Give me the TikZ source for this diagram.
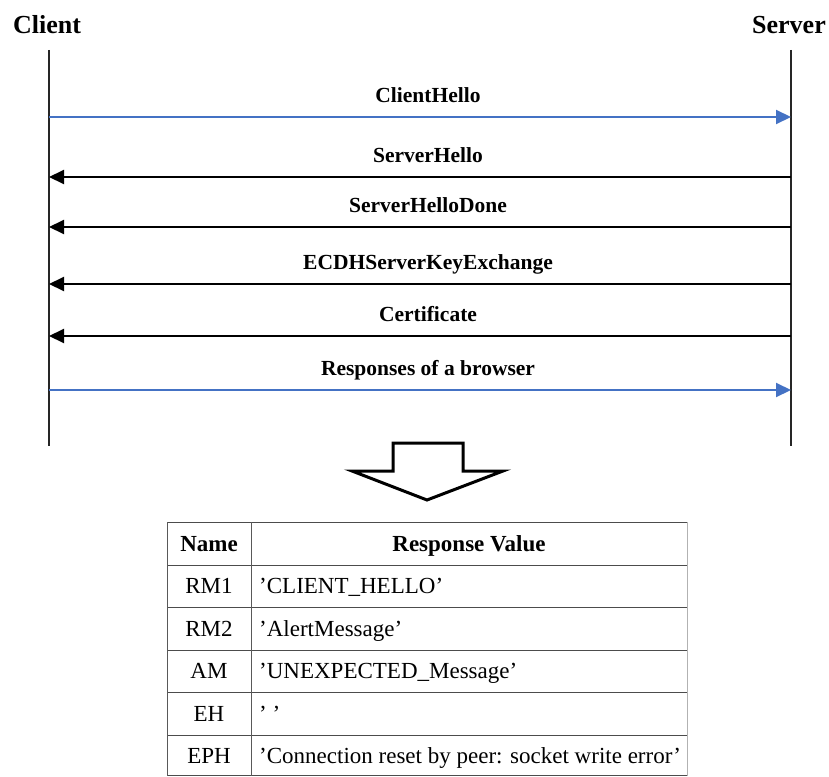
\documentclass[tikz,border=0pt]{standalone}
\usepackage{fontspec}
\setmainfont{Liberation Serif}
\usetikzlibrary{arrows.meta}
\definecolor{msgblue}{HTML}{4472C4}
\tikzset{
  actor/.style={font=\bfseries\fontsize{26}{30}\selectfont, inner sep=0pt},
  lifeline/.style={line width=1.5pt, black!85},
  msglabel/.style={font=\bfseries\fontsize{21.5}{25}\selectfont, inner sep=0pt, anchor=base},
  bluemsg/.style={line width=2pt, msgblue, -{Triangle[length=15pt,width=14pt]}},
  blackmsg/.style={line width=2pt, black, -{Triangle[length=15pt,width=14pt]}},
  bigarrow/.style={line width=3pt, black, fill=white, line join=miter},
  cellhead/.style={font=\bfseries\fontsize{23}{26}\selectfont, inner sep=0pt, text height=16pt, text depth=5pt},
  cell/.style={font=\fontsize{23}{26}\selectfont, inner sep=0pt, text height=16pt, text depth=5pt},
  cellleft/.style={cell, anchor=west},
  tline/.style={line width=1pt, black!70},
}
\begin{document}
\begin{tikzpicture}[x=1pt,y=-1pt]
\useasboundingbox (0,0) rectangle (829,776);
% actors
\node[actor] (cl) at (47,25) {Client};
\node[actor] (sv) at (789,25) {Server};
% lifelines
\coordinate (ct) at (49,50);
\coordinate (cb) at (49,446);
\coordinate (st) at (791,50);
\coordinate (sb) at (791,446);
\draw[lifeline] (ct) -- (cb);
\draw[lifeline] (st) -- (sb);
% messages
\foreach \i/\y in {1/117,2/177,3/227,4/284,5/336,6/390}{
  \coordinate (c\i) at (49,\y);
  \coordinate (s\i) at (791,\y);
}
\draw[bluemsg] (c1) -- (s1);
\node[msglabel] (m1) at (428,102) {ClientHello};
\draw[blackmsg] (s2) -- (c2);
\node[msglabel] (m2) at (428,162) {ServerHello};
\draw[blackmsg] (s3) -- (c3);
\node[msglabel] (m3) at (428,212) {ServerHelloDone};
\draw[blackmsg] (s4) -- (c4);
\node[msglabel] (m4) at (428,269) {ECDHServerKeyExchange};
\draw[blackmsg] (s5) -- (c5);
\node[msglabel] (m5) at (428,321) {Certificate};
\draw[bluemsg] (c6) -- (s6);
\node[msglabel] (m6) at (428,375) {Responses of a browser};
% big down arrow
\draw[bigarrow] (393,443) -- (463,443) -- (463,471) -- (503,471) -- (427,500) -- (352,471) -- (393,471) -- cycle;
% table
\draw[tline] (167,522) -- (687,522);
\foreach \y in {565,607.5,650,692.5,735,775.5}{
  \draw[tline] (167,\y) -- (687,\y);
}
\draw[line width=1pt, black!65] (167,522) -- (167,776);
\draw[line width=1pt, black!65] (251,522) -- (251,776);
\draw[line width=1pt, black!30] (687,522) -- (687,776);
\node[cellhead] (h1) at (209,545.5) {Name};
\node[cellhead] (h2) at (469,545.5) {Response Value};
\node[cell] (n1) at (209,588) {RM1};
\node[cell] (n2) at (209,631) {RM2};
\node[cell] (n3) at (209,673) {AM};
\node[cell] (n4) at (209,716) {EH};
\node[cell] (n5) at (209,757.5) {EPH};
\node[cellleft] (v1) at (259,588) {’CLIENT\_HELLO’};
\node[cellleft] (v2) at (259,631) {’AlertMessage’};
\node[cellleft] (v3) at (259,673) {’UNEXPECTED\_Message’};
\node[cellleft] (v4) at (259,716) {’ ’};
\node[cellleft] (v5) at (259,757.5) {’Connection reset by peer: socket write error’};
\end{tikzpicture}
\end{document}
